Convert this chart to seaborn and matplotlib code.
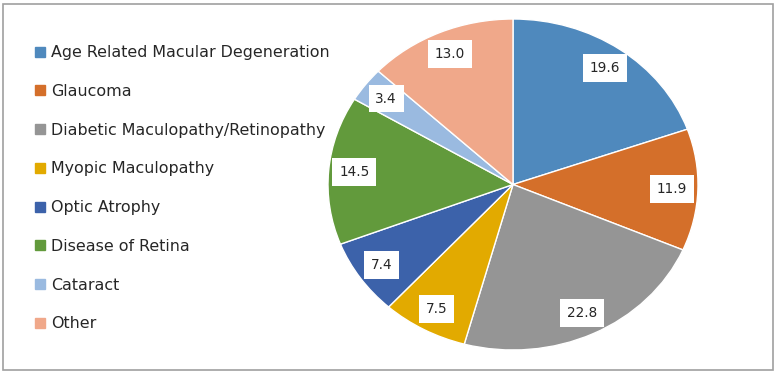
import matplotlib
matplotlib.use("Agg")
import matplotlib.pyplot as plt
import matplotlib.patches as mpatches
import seaborn as sns

# ==========================================
# DATA
# ==========================================
CATEGORIES = [
    "Age Related Macular Degeneration",
    "Glaucoma",
    "Diabetic Maculopathy/Retinopathy",
    "Myopic Maculopathy",
    "Optic Atrophy",
    "Disease of Retina",
    "Cataract",
    "Other",
]
VALUES = [19.6, 11.9, 22.8, 7.5, 7.4, 14.5, 3.4, 13.0]
COLORS = ["#4F89BD", "#D46F2A", "#959595", "#E2AA00",
          "#3C62AA", "#629A3C", "#9ABAE0", "#F0A88A"]
# ==========================================

sns.set_theme(style="white")
plt.rcParams['font.family'] = ['DejaVu Sans']
palette = sns.color_palette(COLORS)

fig = plt.figure(figsize=(7.76, 3.76), dpi=100)
fig.patch.set_facecolor("white")

# pie axes (slightly wider than tall, like the source)
W, H = 776, 376
ax = fig.add_axes([328 / W, (H - 350) / H, 370 / W, 331 / H])
wedges, _, autotexts = ax.pie(
    VALUES,
    colors=palette,
    startangle=90,
    counterclock=False,
    autopct="%.1f",
    pctdistance=0.86,
    wedgeprops=dict(edgecolor="white", linewidth=1),
    textprops=dict(fontsize=9.8, color="#262626"),
)
for t, v in zip(autotexts, VALUES):
    t.set_text(f"{v:.1f}")
    t.set_bbox(dict(boxstyle="square,pad=0.5", facecolor="white", edgecolor="none"))
ax.set_aspect("auto")
ax.set_xlim(-1, 1)
ax.set_ylim(-1, 1)
ax.axis("off")

# legend on the left
handles = [mpatches.Patch(color=c, label=l) for c, l in zip(palette, CATEGORIES)]
fig.legend(
    handles=handles,
    loc="upper left",
    bbox_to_anchor=(21 / W, 1 - 31 / H),
    frameon=False,
    fontsize=11.4,
    handlelength=0.6,
    handleheight=0.6,
    handletextpad=0.4,
    labelspacing=1.5,
    labelcolor="#262626",
)

# outer border
fig.add_artist(mpatches.Rectangle((3 / W, 6 / H), 770 / W, 366 / H,
                                  transform=fig.transFigure, fill=False,
                                  edgecolor="#A0A0A0", linewidth=1.2))

plt.savefig("out.png", dpi=100)
